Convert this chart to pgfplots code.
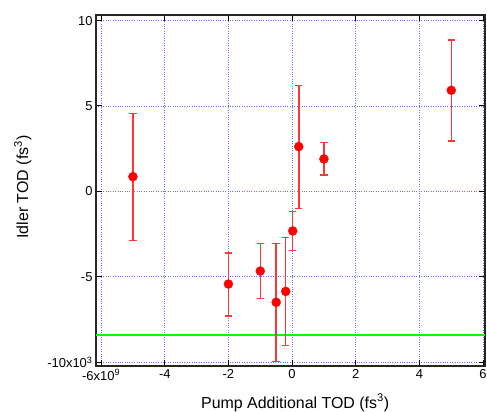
\documentclass[border=0pt]{standalone}
\usepackage{fontspec}
\setmainfont{Liberation Sans}
\usepackage{pgfplots}
\pgfplotsset{compat=1.18}

\definecolor{errred}{RGB}{255,55,55}
\definecolor{gridblue}{RGB}{110,110,255}

\begin{document}
\begin{tikzpicture}
\begin{axis}[
  scale only axis,
  width=389bp, height=351bp,
  xmin=-6.16, xmax=6.06,
  ymin=-10.23, ymax=10.33,
  xtick={-6,-4,-2,0,2,4,6},
  xticklabels={-6x10\textsuperscript{9},-4,-2,0,2,4,6},
  ytick={-10,-5,0,5,10},
  yticklabels={-10x10\textsuperscript{3},-5,0,5,10},
  tick align=inside,
  major tick length=6bp,
  tick style={black, line width=1bp},
  axis line style={black!85, line width=1.3bp},
  grid=major,
  grid style={gridblue, dotted, line width=0.9bp},
  tick label style={font=\fontsize{13}{15}\selectfont},
  label style={font=\fontsize{16}{18}\selectfont},
  xlabel={Pump Additional TOD (fs\textsuperscript{3})},
  ylabel={Idler TOD (fs\textsuperscript{3})},
  xlabel style={at={(axis description cs:0.512,-0.105)}, anchor=center},
  ylabel style={at={(axis description cs:-0.188,0.51)}, anchor=center},
  clip=false,
]
\addplot[green, line width=1.5bp, forget plot] coordinates {(-6.16,-8.40) (6.06,-8.40)};
\addplot[
  only marks, mark=*, mark size=4.5bp, color=red,
  error bars/.cd, y dir=both, y explicit,
  error bar style={errred, line width=1.5bp},
  error mark options={errred, line width=1.5bp, mark size=3.7bp, rotate=90},
] coordinates {
  (-5,   0.86) += (0,3.71) -= (0,3.75)
  (-2,  -5.43) += (0,1.82) -= (0,1.86)
  (-1,  -4.67) += (0,1.62) -= (0,1.62)
  (-0.5,-6.50) += (0,3.45) -= (0,3.47)
  (-0.2,-5.86) += (0,3.16) -= (0,3.18)
  (0.02,-2.32) += (0,1.13) -= (0,1.14)
  (0.21, 2.62) += (0,3.58) -= (0,3.62)
  (1,    1.90) += (0,0.97) -= (0,0.94)
  (5,    5.92) += (0,2.95) -= (0,2.97)
};
\end{axis}
\pgfresetboundingbox
\path (-96bp,-46bp) rectangle (391bp,366bp);
\end{tikzpicture}
\end{document}
